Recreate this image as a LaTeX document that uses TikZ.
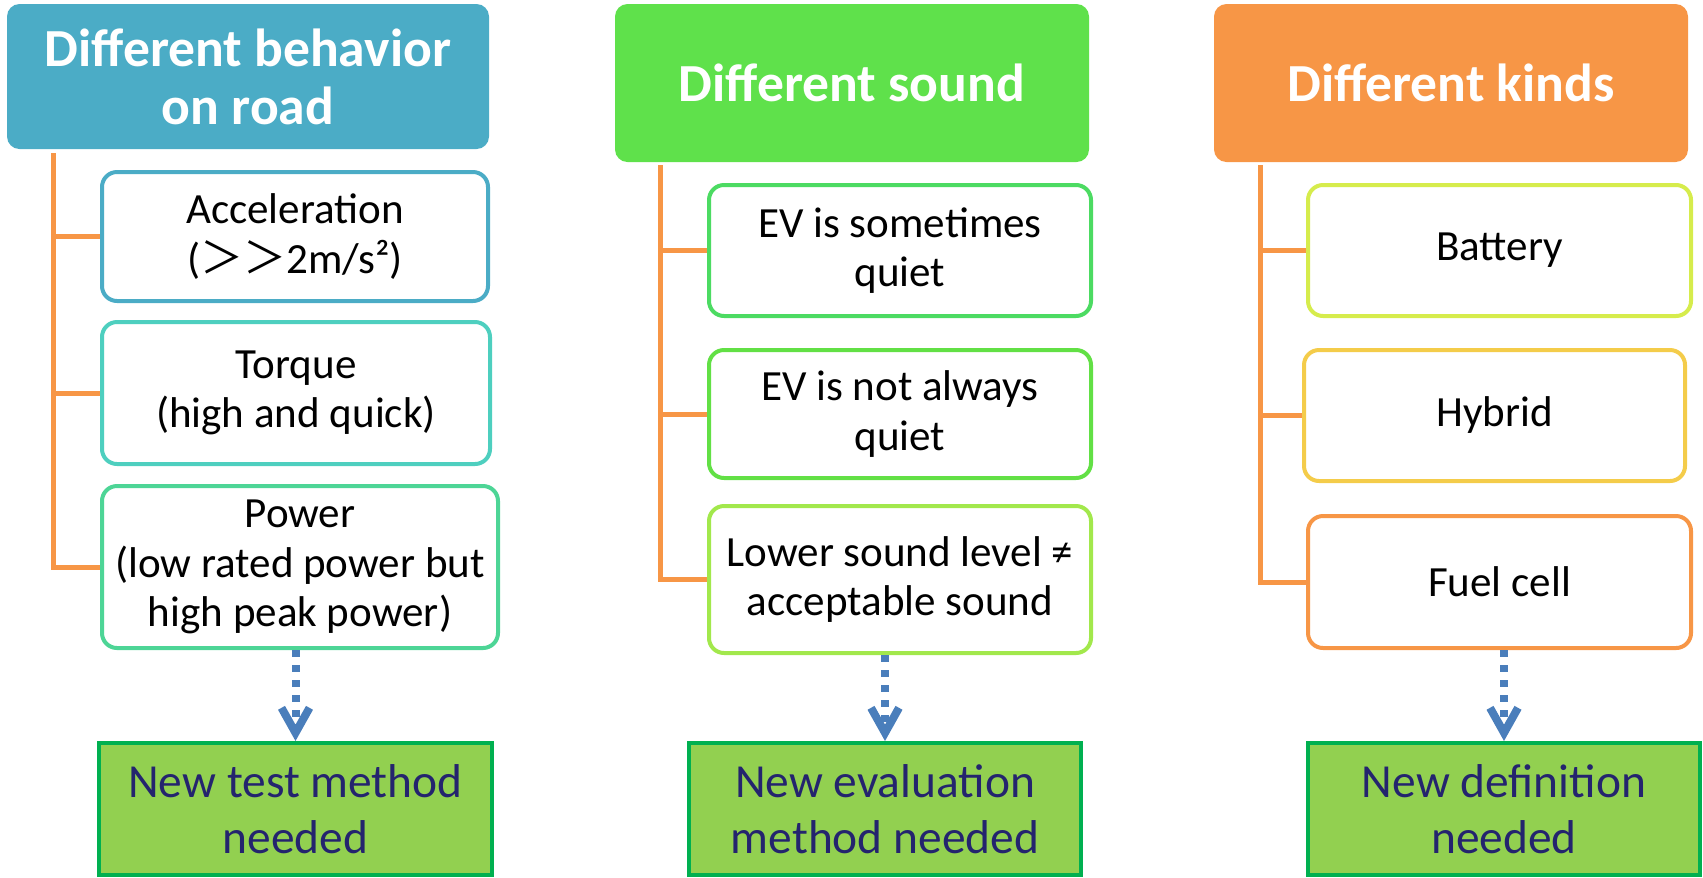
\documentclass[tikz,border=0pt]{standalone}
\usepackage{fontspec}
\setmainfont{Carlito}
\newfontfamily\cjk{Noto Sans CJK SC}
\usepackage{xcolor}
\usepackage{tikz}
\usetikzlibrary{arrows.meta}

\definecolor{headblue}{HTML}{4BACC6}
\definecolor{headgreen}{HTML}{5FE14B}
\definecolor{headorange}{HTML}{F79646}
\definecolor{accline}{HTML}{4BACC6}
\definecolor{torqueline}{HTML}{4ECFBF}
\definecolor{powerline}{HTML}{4DD596}
\definecolor{quietline}{HTML}{4CDB62}
\definecolor{alwaysline}{HTML}{62E045}
\definecolor{levelline}{HTML}{A2E84C}
\definecolor{battline}{HTML}{D6EC4C}
\definecolor{hybline}{HTML}{F4CC4A}
\definecolor{fuelline}{HTML}{F79646}
\definecolor{resfill}{HTML}{92D050}
\definecolor{resline}{HTML}{00B050}
\definecolor{restext}{HTML}{24246E}
\definecolor{arrowblue}{HTML}{4A7EBB}

\tikzset{
  headbox/.style={rectangle, rounded corners=0.25cm, fill=#1, text=white,
    align=center, font=\fontsize{30.5}{33}\selectfont\bfseries},
  itembox/.style={rectangle, rounded corners=0.3cm, draw=#1, line width=0.08cm,
    fill=white, align=center, font=\fontsize{24.5}{28}\selectfont},
  resbox/.style={rectangle, draw=resline, fill=resfill, line width=0.08cm,
    text=restext, align=center, minimum width=7.86cm, minimum height=2.64cm,
    font=\fontsize{27}{32}\selectfont},
  treeline/.style={draw=headorange, line width=0.1cm},
  needarrow/.style={draw=arrowblue, line width=0.16cm, dash pattern=on 0.14cm off 0.16cm,
    -{Straight Barb[length=0.5cm, width=0.56cm, line width=0.16cm]}}
}

\begin{document}
\begin{tikzpicture}
\useasboundingbox (0,0) rectangle (34.06,-17.54);

% column 1
\node[headbox=headblue, minimum width=9.64cm, minimum height=2.90cm] (h1) at (4.96,-1.53) {Different behavior\\on road};
\node[itembox=accline, minimum width=7.72cm, minimum height=2.58cm] (a1) at (5.90,-4.73) {Acceleration\\({\cjk ＞＞}2m/s²)};
\node[itembox=torqueline, minimum width=7.76cm, minimum height=2.84cm] (a2) at (5.92,-7.86) {Torque\\(high and quick)};
\node[itembox=powerline, minimum width=7.92cm, minimum height=3.24cm] (a3) at (6.00,-11.34) {Power\\(low rated power but\\high peak power)};
\node[resbox] (r1) at (5.91,-16.18) {New test method\\needed};
\coordinate (t1) at (1.06,-3.06);
\draw[treeline] (t1) |- (a1.west);
\draw[treeline] (t1) |- (a2.west);
\draw[treeline] (t1) |- (a3.west);
\draw[needarrow] (r1.north |- a3.south) -- (r1.north);

% column 2
\node[headbox=headgreen, minimum width=9.48cm, minimum height=3.16cm] (h2) at (17.04,-1.66) {Different sound};
\node[itembox=quietline, minimum width=7.64cm, minimum height=2.62cm] (b1) at (18.00,-5.01) {EV is sometimes\\quiet};
\node[itembox=alwaysline, minimum width=7.64cm, minimum height=2.56cm] (b2) at (18.00,-8.28) {EV is not always\\quiet};
\node[itembox=levelline, minimum width=7.64cm, minimum height=2.94cm] (b3) at (18.00,-11.59) {Lower sound level ≠\\acceptable sound};
\node[resbox, minimum width=7.84cm] (r2) at (17.70,-16.18) {New evaluation\\method needed};
\coordinate (t2) at (13.20,-3.30);
\draw[treeline] (t2) |- (b1.west);
\draw[treeline] (t2) |- (b2.west);
\draw[treeline] (t2) |- (b3.west);
\draw[needarrow] (r2.north |- b3.south) -- (r2.north);

% column 3
\node[headbox=headorange, minimum width=9.48cm, minimum height=3.16cm] (h3) at (29.02,-1.66) {Different kinds};
\node[itembox=battline, minimum width=7.66cm, minimum height=2.62cm] (c1) at (29.99,-5.01) {Battery};
\node[itembox=hybline, minimum width=7.62cm, minimum height=2.62cm] (c2) at (29.89,-8.31) {Hybrid};
\node[itembox=fuelline, minimum width=7.66cm, minimum height=2.64cm] (c3) at (29.99,-11.64) {Fuel cell};
\node[resbox, minimum width=7.84cm] (r3) at (30.08,-16.18) {New definition\\needed};
\coordinate (t3) at (25.20,-3.30);
\draw[treeline] (t3) |- (c1.west);
\draw[treeline] (t3) |- (c2.west);
\draw[treeline] (t3) |- (c3.west);
\draw[needarrow] (r3.north |- c3.south) -- (r3.north);
\end{tikzpicture}
\end{document}
